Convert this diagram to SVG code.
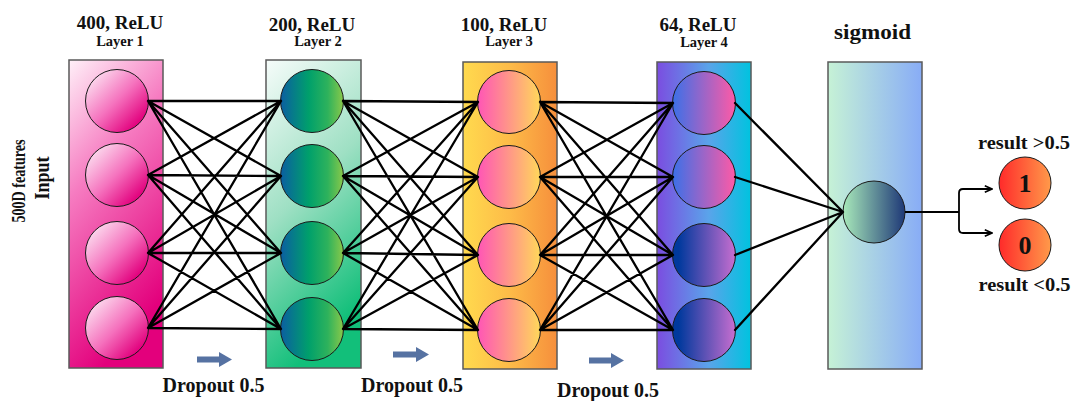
<svg xmlns="http://www.w3.org/2000/svg" width="1072" height="401" viewBox="0 0 1072 401">
  <style>
    text { font-family: "Liberation Serif", "Times New Roman", serif; font-weight: bold; fill: #111; text-anchor: middle; }
    .head { font-size: 19px; }
    .sub { font-size: 14.5px; }
    .drop { font-size: 20px; }
    .res { font-size: 19px; }
    .digit { font-size: 26px; }
    .panel { stroke: #5a5a5a; stroke-width: 1.5; }
    .unit { stroke: #1a1a1a; stroke-width: 1; }
    .wire { fill: none; stroke: #000; stroke-width: 2.3; stroke-linecap: round; }
    .route { fill: none; stroke: #000; stroke-width: 1.8; }
    .flow { fill: #5672a2; }
  </style>
  <defs>
    <linearGradient id="g-p1" x1="0" y1="0" x2="0.35" y2="1">
      <stop offset="0" stop-color="#fff0f8"/>
      <stop offset="0.4" stop-color="#f67cc1"/>
      <stop offset="1" stop-color="#e3007c"/>
    </linearGradient>
    <linearGradient id="g-c1" x1="0.15" y1="0.15" x2="0.85" y2="0.85">
      <stop offset="0" stop-color="#fbd2ea"/>
      <stop offset="0.5" stop-color="#f571bd"/>
      <stop offset="1" stop-color="#e2007d"/>
    </linearGradient>
    <linearGradient id="g-p2" x1="0" y1="0" x2="0.3" y2="1">
      <stop offset="0" stop-color="#f6fcfa"/>
      <stop offset="0.5" stop-color="#9fe0c4"/>
      <stop offset="1" stop-color="#12bf7a"/>
    </linearGradient>
    <linearGradient id="g-c2" x1="0" y1="0" x2="1" y2="0">
      <stop offset="0" stop-color="#0b5ea2"/>
      <stop offset="0.45" stop-color="#00a06b"/>
      <stop offset="0.75" stop-color="#2eb25c"/>
      <stop offset="1" stop-color="#8ac94a"/>
    </linearGradient>
    <linearGradient id="g-p3" x1="0" y1="0" x2="1" y2="0">
      <stop offset="0" stop-color="#ffda4e"/>
      <stop offset="0.5" stop-color="#fdbb48"/>
      <stop offset="1" stop-color="#f68f3c"/>
    </linearGradient>
    <linearGradient id="g-c3" x1="0" y1="0" x2="1" y2="0">
      <stop offset="0" stop-color="#ff55b6"/>
      <stop offset="1" stop-color="#ffd85a"/>
    </linearGradient>
    <linearGradient id="g-p4" x1="0" y1="0" x2="1" y2="0">
      <stop offset="0" stop-color="#7b4de0"/>
      <stop offset="0.55" stop-color="#5aa4ea"/>
      <stop offset="1" stop-color="#00c3df"/>
    </linearGradient>
    <linearGradient id="g-c4a" x1="0" y1="0" x2="1" y2="0">
      <stop offset="0" stop-color="#3b70e8"/>
      <stop offset="1" stop-color="#ff5aa6"/>
    </linearGradient>
    <linearGradient id="g-c4b" x1="0" y1="0" x2="1" y2="0">
      <stop offset="0.1" stop-color="#00399d"/>
      <stop offset="1" stop-color="#c86ed0"/>
    </linearGradient>
    <linearGradient id="g-p5" x1="0" y1="0" x2="1" y2="0">
      <stop offset="0" stop-color="#c6f2d6"/>
      <stop offset="1" stop-color="#88acf6"/>
    </linearGradient>
    <linearGradient id="g-c5" x1="0" y1="0" x2="1" y2="0">
      <stop offset="0" stop-color="#a8e9ba"/>
      <stop offset="1" stop-color="#1e3877"/>
    </linearGradient>
    <linearGradient id="g-out" x1="0" y1="0" x2="1" y2="0">
      <stop offset="0" stop-color="#ff2a2a"/>
      <stop offset="1" stop-color="#ff9a4a"/>
    </linearGradient>
    <marker id="tip" viewBox="0 0 10 10" refX="9" refY="5" markerWidth="9" markerHeight="9" markerUnits="userSpaceOnUse" orient="auto">
      <path d="M1 1.5L9 5L1 8.5" fill="none" stroke="#000" stroke-width="1.8"/>
    </marker>
  </defs>

  <rect width="1072" height="401" fill="#fff"/>

  <!-- input caption -->
  <g id="input">
    <text transform="translate(25,181) rotate(-90)" style="font-size:18px" textLength="83" lengthAdjust="spacingAndGlyphs">500D features</text>
    <text transform="translate(49,178) rotate(-90)" style="font-size:22px" textLength="43" lengthAdjust="spacingAndGlyphs">Input</text>
  </g>

  <!-- hidden layer 1 -->
  <g id="layer1">
    <text class="head" x="120" y="29">400, ReLU</text>
    <text class="sub" x="120" y="46">Layer 1</text>
    <rect class="panel" x="69" y="60" width="94" height="308" fill="url(#g-p1)"/>
    <circle class="unit" cx="117" cy="101" r="31.5" fill="url(#g-c1)"/>
    <circle class="unit" cx="117" cy="175" r="31.5" fill="url(#g-c1)"/>
    <circle class="unit" cx="117" cy="253" r="31.5" fill="url(#g-c1)"/>
    <circle class="unit" cx="117" cy="328" r="31.5" fill="url(#g-c1)"/>
  </g>

  <!-- hidden layer 2 -->
  <g id="layer2">
    <text class="head" x="312" y="31">200, ReLU</text>
    <text class="sub" x="318" y="46">Layer 2</text>
    <rect class="panel" x="266" y="60" width="95" height="308" fill="url(#g-p2)"/>
    <circle class="unit" cx="312" cy="101" r="31.5" fill="url(#g-c2)"/>
    <circle class="unit" cx="312" cy="176" r="31.5" fill="url(#g-c2)"/>
    <circle class="unit" cx="312" cy="253" r="31.5" fill="url(#g-c2)"/>
    <circle class="unit" cx="312" cy="329" r="31.5" fill="url(#g-c2)"/>
  </g>

  <!-- hidden layer 3 -->
  <g id="layer3">
    <text class="head" x="504" y="31">100, ReLU</text>
    <text class="sub" x="509" y="46">Layer 3</text>
    <rect class="panel" x="463" y="62" width="94" height="307" fill="url(#g-p3)"/>
    <circle class="unit" cx="509" cy="102" r="31.5" fill="url(#g-c3)"/>
    <circle class="unit" cx="509" cy="177" r="31.5" fill="url(#g-c3)"/>
    <circle class="unit" cx="509" cy="255" r="31.5" fill="url(#g-c3)"/>
    <circle class="unit" cx="509" cy="330" r="31.5" fill="url(#g-c3)"/>
  </g>

  <!-- hidden layer 4 -->
  <g id="layer4">
    <text class="head" x="698" y="31">64, ReLU</text>
    <text class="sub" x="704" y="47">Layer 4</text>
    <rect class="panel" x="657" y="62" width="94" height="307" fill="url(#g-p4)"/>
    <circle class="unit" cx="704" cy="103" r="31.5" fill="url(#g-c4a)"/>
    <circle class="unit" cx="704" cy="177" r="31.5" fill="url(#g-c4a)"/>
    <circle class="unit" cx="704" cy="255" r="31.5" fill="url(#g-c4b)"/>
    <circle class="unit" cx="704" cy="330" r="31.5" fill="url(#g-c4b)"/>
  </g>

  <!-- output unit -->
  <g id="sigmoid">
    <text x="872.5" y="39" style="font-size:20px" textLength="77" lengthAdjust="spacingAndGlyphs">sigmoid</text>
    <rect class="panel" x="828" y="62" width="94" height="307" fill="url(#g-p5)"/>
    <circle class="unit" cx="874" cy="212" r="31" fill="url(#g-c5)"/>
  </g>

  <!-- decisions -->
  <g id="result-1">
    <text class="res" x="1024" y="149" textLength="92" lengthAdjust="spacingAndGlyphs">result &gt;0.5</text>
    <circle class="unit" cx="1025" cy="183" r="26" fill="url(#g-out)"/>
    <text class="digit" x="1025" y="192">1</text>
  </g>
  <g id="result-0">
    <circle class="unit" cx="1025" cy="245" r="26" fill="url(#g-out)"/>
    <text class="digit" x="1025" y="254">0</text>
    <text class="res" x="1024.5" y="291" textLength="92" lengthAdjust="spacingAndGlyphs">result &lt;0.5</text>
  </g>

  <!-- dropout markers -->
  <g id="dropout1">
    <path class="flow" d="M197 356.5H219V352L232 359.5L219 367V362.5H197Z"/>
    <text class="drop" x="213.5" y="392">Dropout 0.5</text>
  </g>
  <g id="dropout2">
    <path class="flow" d="M393 351.5H416V347L429 354.5L416 362V357.5H393Z"/>
    <text class="drop" x="412" y="392">Dropout 0.5</text>
  </g>
  <g id="dropout3">
    <path class="flow" d="M589 357.5H611V353L624 360.5L611 368V363.5H589Z"/>
    <text class="drop" x="608" y="397">Dropout 0.5</text>
  </g>

  <!-- connections -->
  <g id="connectors">
    <path class="wire" d="M148 101L281 101M148 101L281 176M148 101L281 253M148 101L281 329
      M148 175L281 101M148 175L281 176M148 175L281 253M148 175L281 329
      M148 253L281 101M148 253L281 176M148 253L281 253M148 253L281 329
      M148 328L281 101M148 328L281 176M148 328L281 253M148 328L281 329"/>
    <path class="wire" d="M343 101L478 102M343 101L478 177M343 101L478 255M343 101L478 330
      M343 176L478 102M343 176L478 177M343 176L478 255M343 176L478 330
      M343 253L478 102M343 253L478 177M343 253L478 255M343 253L478 330
      M343 329L478 102M343 329L478 177M343 329L478 255M343 329L478 330"/>
    <path class="wire" d="M540 102L673 103M540 102L673 177M540 102L673 255M540 102L673 330
      M540 177L673 103M540 177L673 177M540 177L673 255M540 177L673 330
      M540 255L673 103M540 255L673 177M540 255L673 255M540 255L673 330
      M540 330L673 103M540 330L673 177M540 330L673 255M540 330L673 330"/>
    <path class="wire" d="M735 103L843 212M735 177L843 212M735 255L843 212M735 330L843 212"/>
    <path class="route" d="M905 212H959"/>
    <path class="route" d="M959 212V193Q959 189 963 189H992" marker-end="url(#tip)"/>
    <path class="route" d="M959 212V229Q959 233 963 233H992" marker-end="url(#tip)"/>
  </g>
</svg>
